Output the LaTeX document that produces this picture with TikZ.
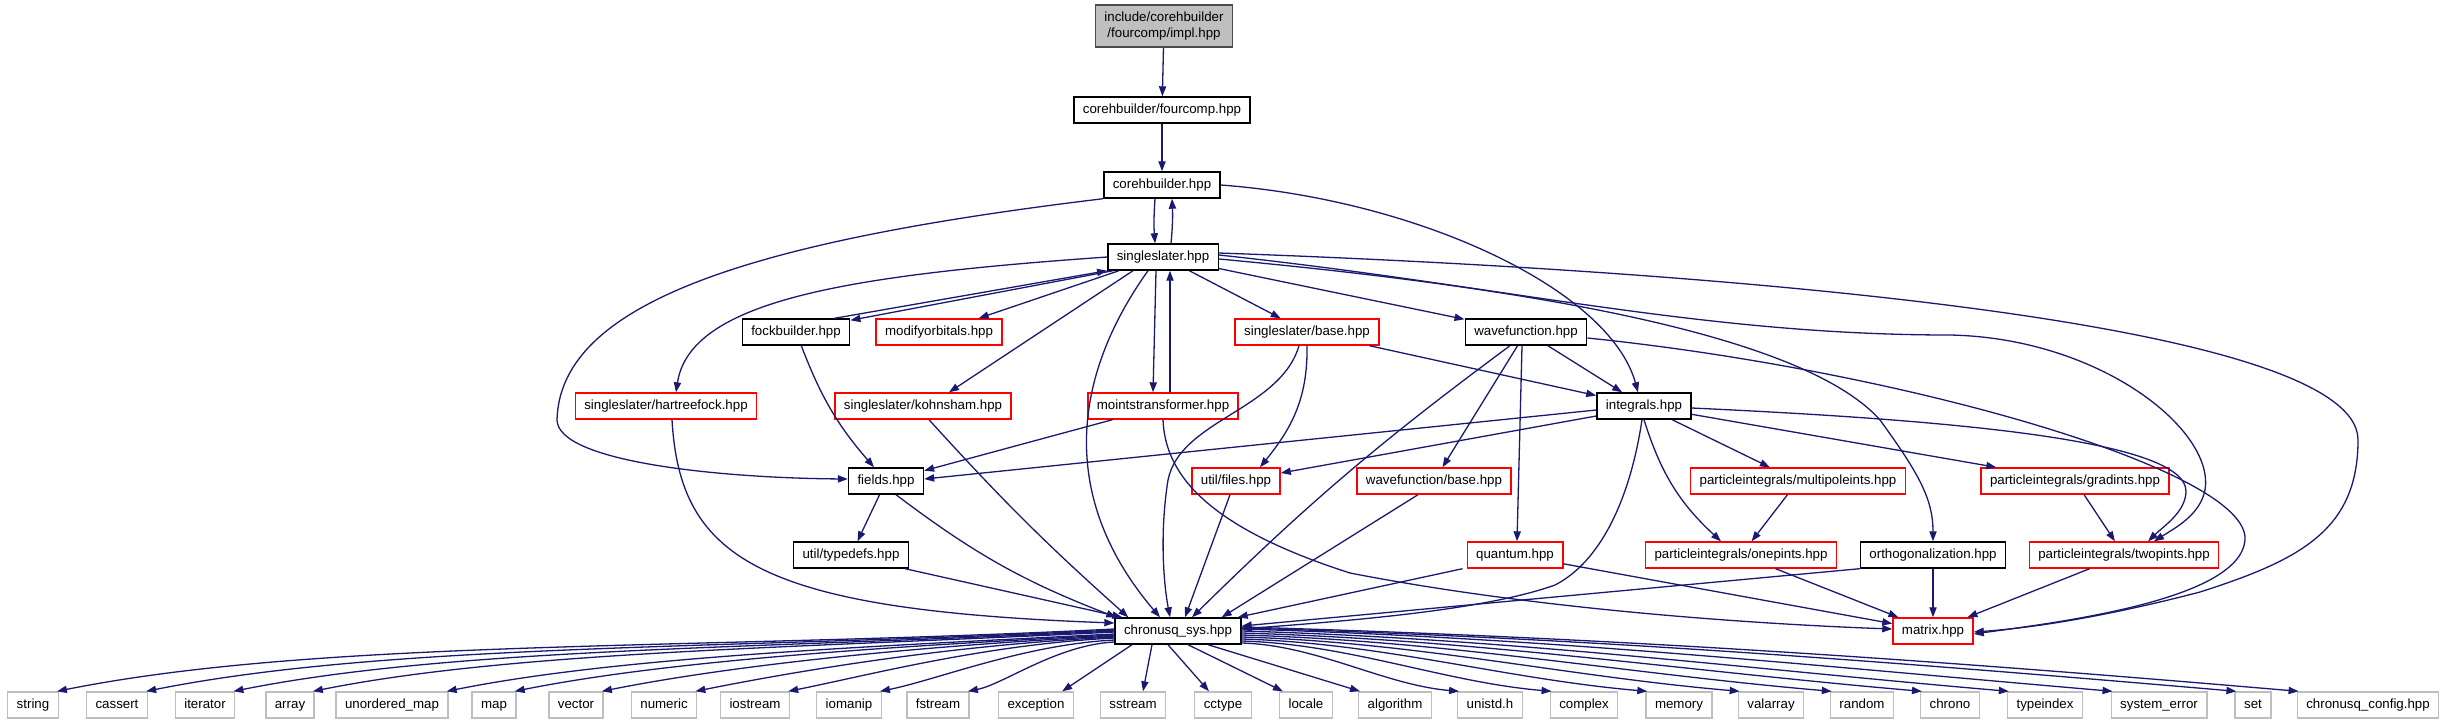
\documentclass[tikz,border=0pt]{standalone}
\usepackage{fontspec}
\setmainfont{Liberation Sans}
\usepackage{tikz}
\usetikzlibrary{arrows.meta,calc,positioning}
\definecolor{depblue}{HTML}{191970}
\definecolor{boxred}{HTML}{FF0000}
\definecolor{boxgray}{HTML}{BFBFBF}

\begin{document}
\begin{tikzpicture}[x=0.5pt,y=-0.5pt]
\tikzset{>={Triangle[length=5pt,width=3.6pt]},
  filebase/.style={line width=0.7pt, fill=white, inner xsep=4.5pt, inner ysep=0pt,
    font=\fontsize{6.65}{8}\selectfont},
  file/.style={filebase, draw=black, minimum height=13pt, text height=4.9pt, text depth=1.4pt},
  redfile/.style={file, draw=boxred},
  sysfile/.style={file, draw=boxgray},
  rootfile/.style={filebase, draw=black!70, fill=boxgray, align=center, minimum height=21pt},
  dep/.style={->, draw=depblue, line width=0.65pt}}
  \useasboundingbox (0,0) rectangle (2445,724);

  % headers
  \node[rootfile] (impl) at (1164,26) {include/corehbuilder\\/fourcomp/impl.hpp};
  \node[file] (fourcomp) at (1162,110) {corehbuilder/fourcomp.hpp};
  \node[file] (corehb) at (1162,185) {corehbuilder.hpp};
  \node[file] (sslater) at (1163,257) {singleslater.hpp};
  \node[file] (fockb) at (796,332) {fockbuilder.hpp};
  \node[redfile] (modorb) at (939,332) {modifyorbitals.hpp};
  \node[redfile] (ssbase) at (1307,332) {singleslater/base.hpp};
  \node[file] (wavefn) at (1526,332) {wavefunction.hpp};
  \node[redfile] (hartree) at (666,406) {singleslater/hartreefock.hpp};
  \node[redfile] (kohnsham) at (923,406) {singleslater/kohnsham.hpp};
  \node[redfile] (moints) at (1163,406) {mointstransformer.hpp};
  \node[file] (integ) at (1644,406) {integrals.hpp};
  \node[file] (fields) at (886,481) {fields.hpp};
  \node[redfile] (files) at (1236,481) {util/files.hpp};
  \node[redfile] (wfbase) at (1434,481) {wavefunction/base.hpp};
  \node[redfile] (multipole) at (1798,481) {particleintegrals/multipoleints.hpp};
  \node[redfile] (gradints) at (2075,481) {particleintegrals/gradints.hpp};
  \node[file] (typedefs) at (851,555) {util/typedefs.hpp};
  \node[redfile] (quantum) at (1515,555) {quantum.hpp};
  \node[redfile] (onepints) at (1741,555) {particleintegrals/onepints.hpp};
  \node[file] (ortho) at (1933,555) {orthogonalization.hpp};
  \node[redfile] (twopints) at (2124,555) {particleintegrals/twopints.hpp};
  \node[file] (chronus) at (1178,631) {chronusq\_sys.hpp};
  \node[redfile] (matrix) at (1933,631) {matrix.hpp};

  % system headers
  \foreach \n/\x/\t in {string/33/string, cassert/117/cassert, iterator/205/iterator,
      array/290/array, umap/392/unordered\_map, map/494/map, vector/576/vector,
      numeric/664/numeric, iostream/755/iostream, iomanip/849/iomanip,
      fstream/938/fstream, exception/1036/exception, sstream/1133/sstream,
      cctype/1223/cctype, locale/1306/locale, algorithm/1395/algorithm,
      unistd/1490/unistd.h, complex/1584/complex, memory/1679/memory,
      valarray/1771/valarray, random/1862/random, chrono/1950/chrono,
      typeindex/2045/typeindex, syserr/2159/system\_error, set/2253/set,
      config/2368/chronusq\_config.hpp}
    \node[sysfile] (\n) at (\x,705) {\t};

  % top chain
  \draw[dep] (impl) -- (fourcomp);
  \draw[dep] (fourcomp) -- (corehb);
  \draw[dep] ([xshift=-3.5pt]corehb.south) to[bend right=4] ([xshift=-4pt]sslater.north);
  \draw[dep] ([xshift=4pt]sslater.north) to[bend right=4] ([xshift=5pt]corehb.south);
  \draw[dep] (corehb.south west) .. controls (760,240) and (560,300) .. (557,420)
    .. controls (558,462) and (720,478) .. ([yshift=1pt]fields.west);
  \draw[dep] (corehb.east) .. controls (1420,200) and (1610,290) .. ([xshift=-3pt]integ.north);

  % singleslater
  \draw[dep] ([xshift=3pt]sslater.south west) -- ([yshift=-1pt]fockb.north east);
  \draw[dep] ([xshift=-8pt]fockb.north east) -- (sslater.south west);
  \draw[dep] ([xshift=-22pt]sslater.south) -- ([xshift=-12pt]modorb.north east);
  \draw[dep] (sslater.west) .. controls (850,275) and (690,300) .. ([xshift=5pt]hartree.north);
  \draw[dep] ([xshift=-15pt]sslater.south) -- ([xshift=13pt]kohnsham.north);
  \draw[dep] ([xshift=-3.5pt]sslater.south) -- ([xshift=-5pt]moints.north);
  \draw[dep] ([xshift=3.5pt]moints.north) -- ([xshift=3.5pt]sslater.south);
  \draw[dep] ([xshift=-7.5pt]sslater.south) .. controls (1070,380) and (1060,500)
    .. ([xshift=-9pt]chronus.north);
  \draw[dep] (sslater) -- (ssbase);
  \draw[dep] (sslater) -- (wavefn);
  \draw[dep] ([yshift=-1pt]sslater.east) .. controls (1500,285) and (1800,330) .. (1880,420)
    .. controls (1920,475) and (1933,500) .. (ortho.north);
  \draw[dep] ([yshift=1pt]sslater.east) .. controls (1500,285) and (1700,335) .. (1950,335)
    .. controls (2100,338) and (2215,430) .. (2205,490)
    .. controls (2200,515) and (2175,528) .. ([xshift=15pt]twopints.north);
  \draw[dep] ([yshift=2pt]sslater.east) .. controls (1700,270) and (2358,320) .. (2358,440)
    .. controls (2358,530) and (2300,560) .. (2200,592)
    .. controls (2100,618) and (2030,628) .. ([yshift=-0.5pt]matrix.east);

  % second row
  \draw[dep] (fockb) to[bend right=10] (fields);
  \draw[dep] ([xshift=3pt]hartree.south) .. controls (680,560) and (760,610)
    .. ([yshift=4pt]chronus.west);
  \draw[dep] ([xshift=3pt]kohnsham.south) to[bend right=3] ([xshift=7pt]chronus.north west);
  \draw[dep] (moints) -- (fields);
  \draw[dep] (moints.south) .. controls (1165,470) and (1200,525) .. (1350,573)
    .. controls (1550,612) and (1780,625) .. ([yshift=1pt]matrix.west);
  \draw[dep] (ssbase) -- (integ);
  \draw[dep] (ssbase.south) .. controls (1308,400) and (1290,430) .. ([xshift=12pt]files.north);
  \draw[dep] ([xshift=-4pt]ssbase.south) .. controls (1280,410) and (1180,420) .. (1168,480)
    .. controls (1160,530) and (1163,580) .. ([xshift=-4pt]chronus.north);
  \draw[dep] (wavefn) -- (integ);
  \draw[dep] ([xshift=-8pt]wavefn.south) to[bend right=4] ([xshift=7pt]chronus.north);
  \draw[dep] (wavefn) -- (wfbase);
  \draw[dep] ([xshift=-2pt]wavefn.south) -- ([xshift=1pt]quantum.north);
  \draw[dep] ([yshift=-3pt]wavefn.east) .. controls (1900,370) and (2250,470) .. (2245,540)
    .. controls (2240,600) and (2060,622) .. ([yshift=-1.5pt]matrix.east);

  % integrals
  \draw[dep] ([yshift=-2pt]integ.west) -- ([yshift=1pt]fields.east);
  \draw[dep] ([yshift=-5pt]integ.west) -- ([yshift=4pt]files.east);
  \draw[dep] ([xshift=-1pt]integ.south) .. controls (1630,500) and (1600,562) .. (1555,585)
    .. controls (1480,612) and (1330,622) .. ([yshift=1pt]chronus.east);
  \draw[dep] (integ.south) to[bend right=15] ([xshift=-10pt]onepints.north);
  \draw[dep] (integ) -- (multipole);
  \draw[dep] (integ) -- (gradints);
  \draw[dep] ([yshift=-1pt]integ.east) .. controls (1950,420) and (2188,440) .. (2186,492)
    .. controls (2185,512) and (2165,525) .. ([xshift=12pt]twopints.north);
  \draw[dep] (multipole) -- (onepints);
  \draw[dep] (gradints) -- (twopints);

  % lower rows
  \draw[dep] (fields) -- (typedefs);
  \draw[dep] ([xshift=5pt]fields.south) to[bend right=8] ([xshift=1pt]chronus.north west);
  \draw[dep] ([xshift=-2pt]typedefs.south east) -- ([xshift=4pt]chronus.north west);
  \draw[dep] ([xshift=-3pt]files.south) -- ([xshift=3.5pt]chronus.north);
  \draw[dep] ([xshift=-8pt]wfbase.south) -- ([xshift=-10pt]chronus.north east);
  \draw[dep] ([xshift=-2pt]quantum.south west) -- ([xshift=-2pt]chronus.north east);
  \draw[dep] (quantum) -- (matrix);
  \draw[dep] (onepints) -- (matrix);
  \draw[dep] (ortho.south west) -- ([yshift=2.5pt]chronus.east);
  \draw[dep] (ortho) -- (matrix);
  \draw[dep] (twopints) -- (matrix);

  % chronusq_sys fan
  \foreach \n/\ys/\ex in {string/1/64, cassert/0.5/150, iterator/0/238, array/-0.5/318,
      umap/-1.5/447, map/-2/517, vector/-2.5/608, numeric/-3/702, iostream/-3.5/791,
      iomanip/-4.5/888, fstream/-5.5/970}{
    \pgfmathsetmacro{\dist}{1114-\ex}
    \draw[dep] ([yshift=\ys pt]chronus.west) .. controls +({-0.4*\dist},{0.02*\dist})
      and +({0.25*\dist},{-0.05*\dist}) .. ([xshift=-1pt]\n.north east);
  }
  \draw[dep] ([xshift=-23pt]chronus.south) -- ([xshift=-6pt]exception.north east);
  \draw[dep] ([xshift=-13pt]chronus.south) -- ([xshift=5pt]sstream.north);
  \draw[dep] ([xshift=-5pt]chronus.south) -- ([xshift=-7pt]cctype.north);
  \draw[dep] ([xshift=5pt]chronus.south) -- ([xshift=2pt]locale.north west);
  \draw[dep] ([xshift=15pt]chronus.south) -- ([xshift=1pt]algorithm.north west);
  \foreach \n/\ys/\ex in {unistd/-6/1456, complex/-5/1549, memory/-4/1643, valarray/-3/1737,
      random/-2/1830, chrono/-1/1919, typeindex/0/2006, syserr/1/2109, set/1.5/2232,
      config/2/2297}{
    \pgfmathsetmacro{\dist}{\ex-1241}
    \draw[dep] ([yshift=\ys pt]chronus.east) .. controls +({0.35*\dist},{0.01*\dist})
      and +({-0.35*\dist},{-0.03*\dist}) .. ([xshift=1pt]\n.north west);
  }
\end{tikzpicture}
\end{document}
